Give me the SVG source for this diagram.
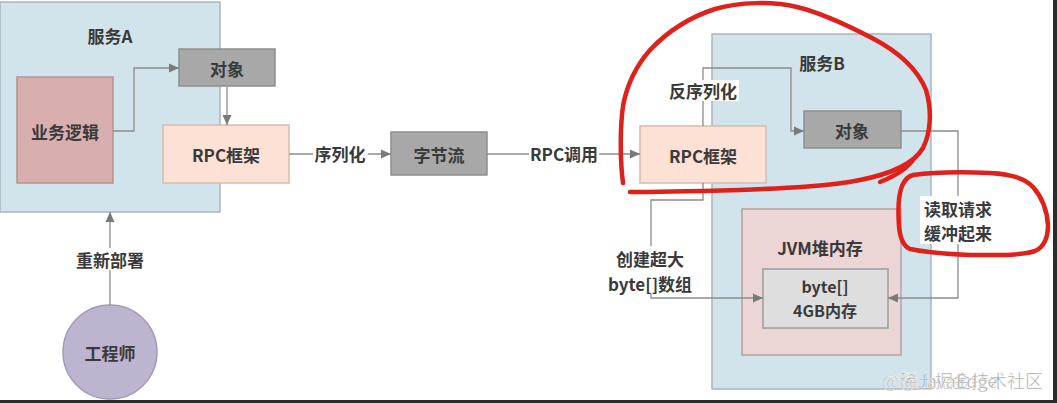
<svg xmlns="http://www.w3.org/2000/svg" width="1057" height="403" viewBox="0 0 1057 403">
<defs>
<marker id="arr" markerUnits="userSpaceOnUse" markerWidth="12" markerHeight="10" refX="10" refY="5" orient="auto">
<path d="M0,0.5 L10,5 L0,9.5 Z" fill="#7a7a7a"/>
</marker>
<style>
.t{font-family:"Noto Sans CJK SC","Liberation Sans",sans-serif;font-size:17px;font-weight:bold;fill:#3a3a3a;text-anchor:middle;dominant-baseline:central}
.s{font-size:16px}
.c{fill:none;stroke:#8c8c8c;stroke-width:1.3}
.svc{fill:#d2e4eb;stroke:#a9b6bc;stroke-width:1.5}
.obj{fill:#a8a8a8;stroke:#8e8e8e;stroke-width:1.5}
.rpc{fill:#fde1d5;stroke:#d6bbb0;stroke-width:1.5}
.red{fill:none;stroke:#e0201b;stroke-width:4.5;stroke-linecap:round;stroke-linejoin:round}
.wm{font-family:"Noto Sans CJK SC","Liberation Sans",sans-serif;font-size:18px;fill:#9a9a9a;stroke:#ffffff;stroke-width:0.5;opacity:0.9}
</style>
</defs>
<rect x="0" y="0" width="1057" height="403" fill="#ffffff"/>

<g id="serviceA">
<rect class="svc" x="0" y="2" width="220" height="210"/>
<text class="t" x="110" y="35">服务A</text>
</g>
<g id="serviceB">
<rect class="svc" x="712" y="34" width="219" height="355"/>
<text class="t" x="822" y="62">服务B</text>
</g>
<g id="bizLogic">
<rect x="17" y="77" width="96" height="106" fill="#d9aeaf" stroke="#b39293" stroke-width="1.5"/>
<text class="t" x="65" y="131">业务逻辑</text>
</g>
<g id="objA">
<rect class="obj" x="179" y="49" width="96" height="37"/>
<text class="t" x="227" y="68">对象</text>
</g>
<g id="rpcA">
<rect class="rpc" x="163" y="125" width="126" height="58"/>
<text class="t" x="226" y="154">RPC框架</text>
</g>
<g id="byteStream">
<rect class="obj" x="391" y="132" width="96" height="43"/>
<text class="t" x="439" y="154">字节流</text>
</g>
<g id="rpcB">
<rect class="rpc" x="640" y="126" width="126" height="57"/>
<text class="t" x="703" y="155">RPC框架</text>
</g>
<g id="objB">
<rect class="obj" x="804" y="111" width="97" height="37"/>
<text class="t" x="852" y="130">对象</text>
</g>
<g id="jvmHeap">
<rect x="742" y="209" width="159" height="146" fill="#ecd5d5" stroke="#b3a3a3" stroke-width="1.5"/>
<text class="t" x="820" y="247">JVM堆内存</text>
</g>
<g id="byteArr">
<rect x="763" y="269" width="125" height="59" fill="#dedede" stroke="#9d9d9d" stroke-width="1.5"/>
<text class="t s" x="825" y="286">byte[]</text>
<text class="t s" x="825" y="310">4GB内存</text>
</g>
<g id="engineer">
<circle cx="110" cy="352" r="47" fill="#bdb4d0" stroke="#a39bb5" stroke-width="1.5"/>
<text class="t" x="110" y="352">工程师</text>
</g>

<g id="connectors">
<path class="c" d="M113,131 H134 V68 H179" marker-end="url(#arr)"/>
<path class="c" d="M227,86 V125" marker-end="url(#arr)"/>
<path class="c" d="M289,154 H391" marker-end="url(#arr)"/>
<rect x="313" y="143" width="55" height="22" fill="#ffffff"/>
<text class="t" x="340" y="153">序列化</text>
<path class="c" d="M487,154 H640" marker-end="url(#arr)"/>
<rect x="529" y="143" width="70" height="22" fill="#ffffff"/>
<text class="t" x="564" y="153">RPC调用</text>
<path class="c" d="M703,126 V68 H791 V131 H804" marker-end="url(#arr)"/>
<rect x="666" y="80" width="73" height="21" fill="#ffffff"/>
<text class="t" x="703" y="90">反序列化</text>
<path class="c" d="M901,131 H958 V298 H888" marker-end="url(#arr)"/>
<rect x="920" y="196" width="76" height="48" fill="#ffffff"/>
<text class="t" x="958" y="208">读取请求</text>
<text class="t" x="958" y="232">缓冲起来</text>
<path class="c" d="M703,183 V200 H651 V298 H763" marker-end="url(#arr)"/>
<rect x="607" y="246" width="88" height="48" fill="#ffffff"/>
<text class="t" x="650" y="258">创建超大</text>
<text class="t" x="650" y="283">byte[]数组</text>
<path class="c" d="M110,305 V212" marker-end="url(#arr)"/>
<rect x="74" y="248" width="72" height="22" fill="#ffffff"/>
<text class="t" x="110" y="259">重新部署</text>
</g>

<g id="annotations">
<path class="red" d="M623,183 C620,160 620,128 623,106 C627,84 636,66 650,50 C668,31 690,17 715,9 C740,2 772,1 797,7 C822,13 847,25 872,38 C897,51 917,68 926,90 C932,110 931,132 923,148 C913,165 890,174 860,180 C830,186 790,188 740,190 C700,191 660,192 630,192"/>
<path class="red" d="M880,182 C895,176 906,170 913,160"/>
<path class="red" d="M913,175 C935,172 965,172 990,173 C1010,174 1025,178 1033,187 C1041,196 1047,210 1048,225 C1048,237 1044,247 1035,251 C1020,256 995,255 970,255 C945,254 925,252 910,249 C903,246 900,238 899,226 C898,212 898,196 902,186 C905,179 909,176 913,175"/>
</g>

<g id="watermark">
<text class="wm" x="882" y="388">@稀土掘金技术社区</text>
<text class="wm" x="900" y="388">@JavaEdge</text>
</g>

<rect x="1053" y="0" width="4" height="403" fill="#2b2b2b"/>
<rect x="0" y="400" width="1057" height="3" fill="#2b2b2b"/>
</svg>
